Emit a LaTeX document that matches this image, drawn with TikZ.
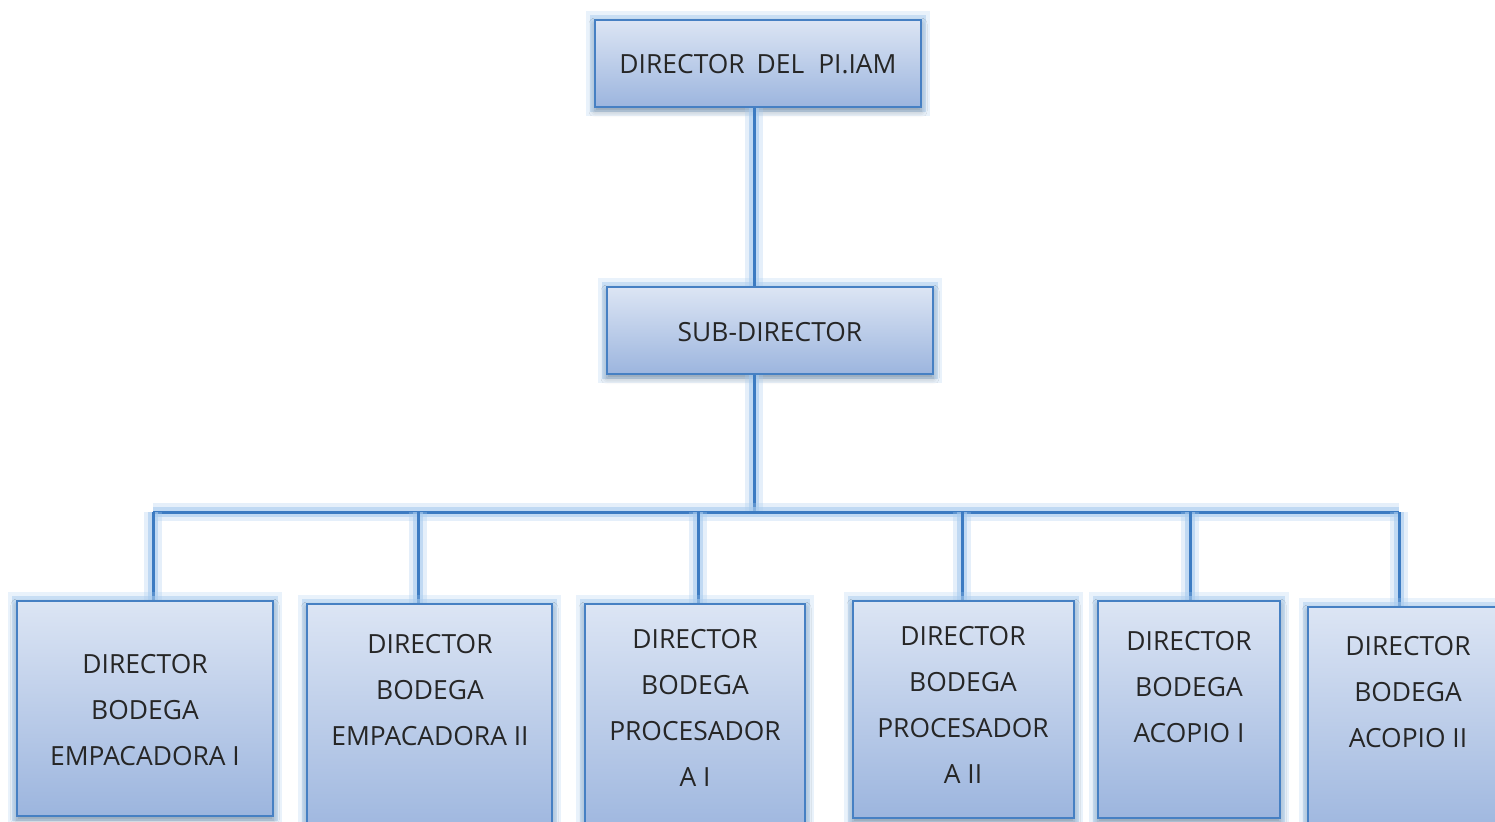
\documentclass[tikz,border=0pt]{standalone}
\usepackage{fontspec}
\setmainfont{Open Sans}
\usepackage{tikz}
\usetikzlibrary{positioning,fit,calc,shadows.blur}

\definecolor{boxtop}{HTML}{DCE5F4}
\definecolor{boxbot}{HTML}{9CB5DE}
\definecolor{boxline}{HTML}{4680C3}
\definecolor{linkblue}{HTML}{3C7BC2}
\definecolor{glowblue}{HTML}{A8CBEE}

\tikzset{
  orgbox/.style={draw=boxline,line width=1pt,top color=boxtop,bottom color=boxbot,
    inner sep=0pt,
    preaction={draw=glowblue,line width=9pt,opacity=0.25},
    preaction={draw=glowblue,line width=5pt,opacity=0.5},
    blur shadow={shadow xshift=0pt,shadow yshift=-2pt,shadow blur radius=3pt,
      shadow opacity=30}},
  orgtext/.style={align=center,text=black!85,font=\fontsize{13.2}{23}\selectfont},
  link/.style={draw=linkblue,line width=1.5pt,
    preaction={draw=glowblue,line width=9pt,opacity=0.3},
    preaction={draw=glowblue,line width=5pt,opacity=0.6}}
}

\begin{document}
\begin{tikzpicture}[x=0.5pt,y=-0.5pt]
\useasboundingbox (0,0) rectangle (1495,821);
\clip (0,0) rectangle (1495,821);

% head and deputy
\node[orgbox,fit={(595,20) (921,107)}] (dir) {};
\node[orgtext] (tdir) at (758,64) {DIRECTOR\hspace{6pt}DEL\hspace{7pt}PI.IAM};
\node[orgbox,fit={(607,287) (933,374)}] (sub) {};
\node[orgtext] (tsub) at (770,332) {SUB-DIRECTOR};

% branch bar and drops
\coordinate (hb) at (754,512);
\foreach \i/\x in {1/153,2/418,3/698,4/962,5/1190,6/1399}{
  \coordinate (d\i) at (\x,512);
}
\draw[link] (dir.south -| hb) -- (sub.north -| hb);
\draw[link] (sub.south -| hb) -- (hb);
\draw[link] (d1) -- (d6);

% bottom boxes: name/left/top/right/bottom/text x/text y/label
\foreach \n/\xa/\ya/\xb/\yb/\tx/\ty/\lab in {
  1/17/601/273/816/145/710/{DIRECTOR\\BODEGA\\EMPACADORA I},
  2/307/604/552/840/430/690/{DIRECTOR\\BODEGA\\EMPACADORA II},
  3/585/604/805/840/695/708/{DIRECTOR\\BODEGA\\PROCESADOR\\A I},
  4/853/601/1074/818/963/705/{DIRECTOR\\BODEGA\\PROCESADOR\\A II},
  5/1098/601/1280/818/1189/687/{DIRECTOR\\BODEGA\\ACOPIO I},
  6/1308/607/1510/840/1408/692/{DIRECTOR\\BODEGA\\ACOPIO II}}{
  \draw[link] (d\n) -- (d\n |- \xa,\ya);
  \node[orgbox,fit={(\xa,\ya) (\xb,\yb)}] (b\n) {};
  \node[orgtext] (t\n) at (\tx,\ty) {\lab};
}
\end{tikzpicture}
\end{document}
